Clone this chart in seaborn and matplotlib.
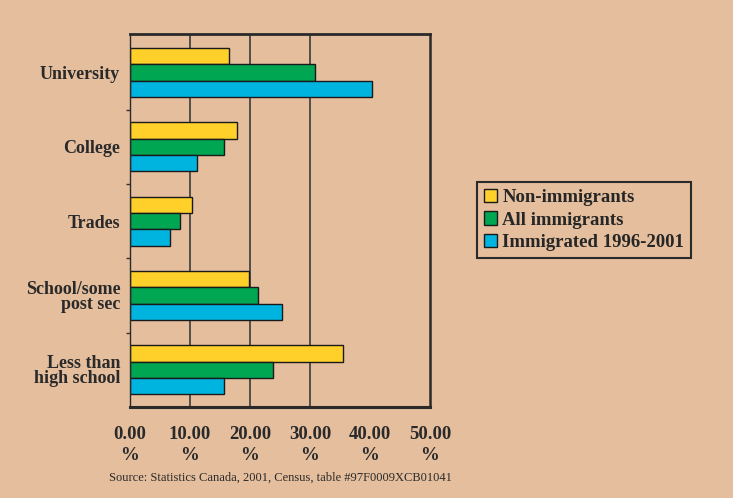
import matplotlib
matplotlib.use("Agg")
import matplotlib.pyplot as plt
import seaborn as sns
import pandas as pd
import numpy as np

categories = ["University", "College", "Trades", "School/some\npost sec", "Less than\nhigh school"]
series = ["Non-immigrants", "All immigrants", "Immigrated 1996-2001"]
non_immigrants = [16.5, 17.9, 10.3, 19.9, 35.5]
all_immigrants = [30.9, 15.7, 8.4, 21.4, 23.8]
recent_immigrants = [40.3, 11.2, 6.7, 25.3, 15.7]
x_ticks = [0, 10, 20, 30, 40, 50]
x_labels = ["0.00\n%", "10.00\n%", "20.00\n%", "30.00\n%", "40.00\n%", "50.00\n%"]
colors = ["#FFD02A", "#00A651", "#00B4E0"]
bg = "#E4BE9D"

rows = []
for s, vals in zip(series, [non_immigrants, all_immigrants, recent_immigrants]):
    for c, v in zip(categories, vals):
        rows.append({"category": c, "series": s, "value": v})
df = pd.DataFrame(rows)

sns.set_theme(style="white")
plt.rcParams["font.family"] = ["Liberation Serif", "DejaVu Serif"]

fig = plt.figure(figsize=(7.33, 4.98), dpi=100, facecolor=bg)
ax = fig.add_axes([130/733, 1 - 407/498, 300/733, 373/498])
ax.set_facecolor(bg)

for gx in [10, 20, 30]:
    ax.axvline(gx, color="#3a3a3a", lw=1.2, zorder=0)

sns.barplot(data=df, y="category", x="value", hue="series", order=categories,
            hue_order=series, palette=colors, orient="h", width=0.66,
            edgecolor="#1a1a1a", linewidth=1.0, saturation=1, ax=ax, zorder=2)

ax.set_xlim(0, 50)
ax.set_ylim(4.5, -0.52)
ax.set_xticks(x_ticks)
ax.set_xticklabels(x_labels, fontsize=13.5, fontweight="bold", color="#2a2a2a",
                   linespacing=1.25)
ax.set_yticks(range(len(categories)))
ax.set_yticklabels(categories, fontsize=13, fontweight="bold", color="#2a2a2a",
                   linespacing=0.85)
ax.tick_params(axis="y", length=0, pad=7)
ax.tick_params(axis="x", length=4, width=1, color="#333333", direction="out", pad=10)
ax.set_yticks([0.5, 1.5, 2.5, 3.5], minor=True)
ax.tick_params(axis="y", which="minor", length=3, width=1, color="#333333", left=True)
ax.set_xlabel("")
ax.set_ylabel("")

for side in ["top", "right", "left", "bottom"]:
    ax.spines[side].set_visible(True)
    ax.spines[side].set_color("#2a2a2a")
ax.spines["bottom"].set_linewidth(2.2)
ax.spines["top"].set_linewidth(2.0)
ax.spines["right"].set_linewidth(1.8)
ax.spines["left"].set_linewidth(1.0)

handles, labels = ax.get_legend_handles_labels()
ax.legend(handles, labels, loc="center left", bbox_to_anchor=(477/733, 1 - 220/498),
          bbox_transform=fig.transFigure, frameon=True, fancybox=False,
          edgecolor="#2a2a2a", facecolor=bg, framealpha=1,
          prop={"family": ["Liberation Serif"], "weight": "bold", "size": 13.5},
          handlelength=0.7, handleheight=0.7, handletextpad=0.3,
          labelspacing=0.3, borderpad=0.35, borderaxespad=0)
ax.get_legend().get_frame().set_linewidth(1.5)

fig.text(280/733, 1 - 478/498, "Source: Statistics Canada, 2001, Census, table #97F0009XCB01041",
         ha="center", va="center", fontsize=9, color="#2a2a2a")

fig.savefig("out.png", dpi=100, facecolor=bg)
